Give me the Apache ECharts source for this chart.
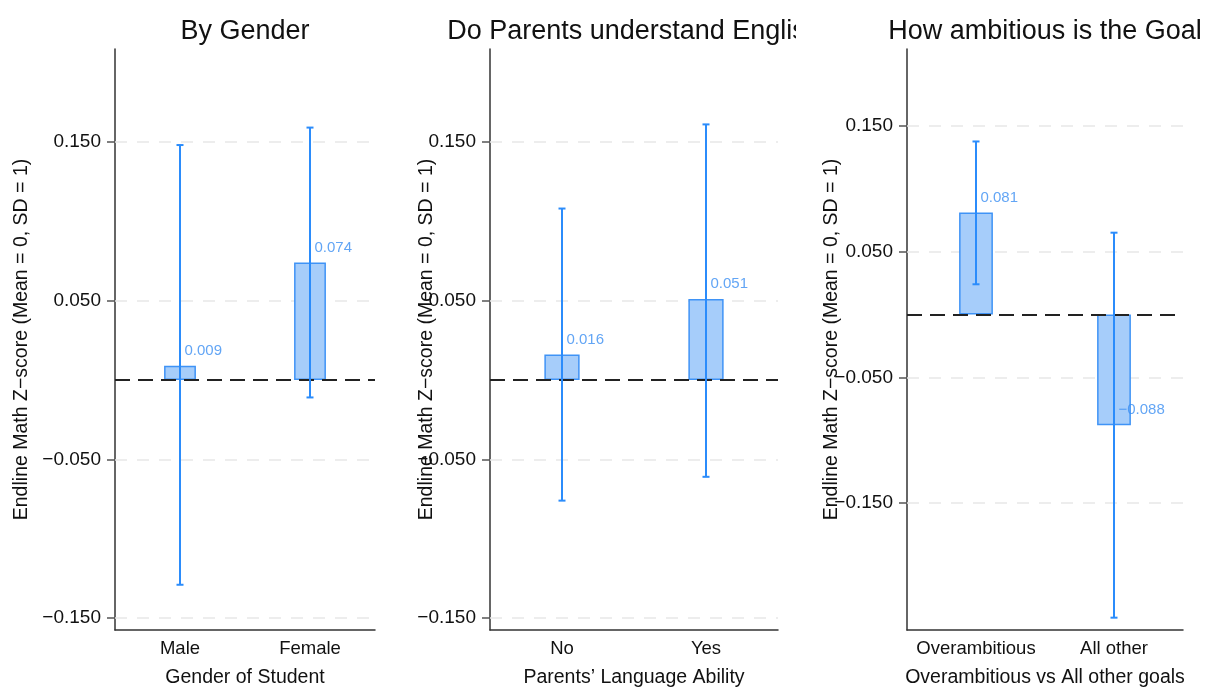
<!DOCTYPE html>
<html>
<head>
<meta charset="utf-8">
<script src="https://cdn.jsdelivr.net/npm/echarts@6/dist/echarts.min.js"></script>
<style>
  body { margin: 0; background: #fff; }
  .panel { position: absolute; top: 0; height: 687px; overflow: hidden; }
</style>
</head>
<body>
<div id="p1" class="panel" style="left:0;width:398px"></div>
<div id="p2" class="panel" style="left:398px;width:398px"></div>
<div id="p3" class="panel" style="left:796px;width:413px"></div>
<script>
  // tick values shared by all three panels
  const yTicks = [-0.15, -0.05, 0.05, 0.15]

  // by gender
  const genderCats = ['Male', 'Female']
  const genderMeans = [0.009, 0.074]
  const genderLow = [-0.129, -0.011]
  const genderHigh = [0.148, 0.159]

  // parents' language ability
  const parentCats = ['No', 'Yes']
  const parentMeans = [0.016, 0.051]
  const parentLow = [-0.076, -0.061]
  const parentHigh = [0.108, 0.161]

  // goal ambition
  const goalCats = ['Overambitious', 'All other']
  const goalMeans = [0.081, -0.088]
  const goalLow = [0.024, -0.241]
  const goalHigh = [0.1375, 0.065]

  const FONT = '"Liberation Sans", Arial, Helvetica, sans-serif'
  const blue = '#2b8cfb'

  function fmt (v) {
    return v.toFixed(3).replace('-', '\u2212')
  }

  function drawPanel (id, p) {
    let chart = echarts.init(document.getElementById(id))
    chart.setOption({
      animation: false,
      textStyle: { fontFamily: FONT },
      title: {
        text: p.title,
        left: p.left + p.width / 2,
        top: 18,
        padding: 0,
        textAlign: 'center',
        textStyle: { fontFamily: FONT, fontSize: 27, fontWeight: 'normal', color: '#111' }
      },
      grid: { left: p.left, top: 49, width: p.width, height: 581, outerBoundsMode: 'none', containLabel: false },
      xAxis: {
        type: 'category',
        data: p.cats,
        name: p.xName,
        nameLocation: 'middle',
        nameGap: 38,
        nameMoveOverlap: false,
        nameTextStyle: { fontSize: 19.5, color: '#111' },
        axisLine: { onZero: false, lineStyle: { color: '#333', width: 1.5 } },
        axisTick: { alignWithLabel: true, length: 7, lineStyle: { color: '#444', width: 1.5 } },
        axisLabel: { interval: 0, fontSize: 18.5, color: '#111', margin: 9 }
      },
      yAxis: {
        type: 'value',
        min: p.min,
        max: p.max,
        name: 'Endline Math Z\u2212score (Mean = 0, SD = 1)',
        nameLocation: 'middle',
        nameGap: p.nameGap,
        nameMoveOverlap: false,
        nameTextStyle: { fontSize: 19.5, color: '#111' },
        axisLine: { show: true, lineStyle: { color: '#333', width: 1.5 } },
        axisTick: { show: true, customValues: yTicks, length: 8, lineStyle: { color: '#555', width: 1.5 } },
        axisLabel: { customValues: yTicks, formatter: fmt, fontSize: 19, color: '#111', margin: 14 },
        splitLine: { show: false }
      },
      series: [
        {
          // light dashed grid lines behind the bars
          type: 'line',
          data: [],
          z: 1,
          silent: true,
          markLine: {
            z: 1,
            silent: true,
            symbol: 'none',
            label: { show: false },
            lineStyle: { color: '#e8e8e8', type: [12, 10], width: 1.5 },
            data: yTicks.map(v => ({ yAxis: v }))
          }
        },
        {
          type: 'bar',
          data: p.means,
          barWidth: '24.5%',
          z: 3,
          itemStyle: { color: '#a6cdfa', borderColor: '#3f93f6', borderWidth: 1.5 }
        },
        {
          // zero reference line
          type: 'line',
          data: [],
          z: 5,
          silent: true,
          markLine: {
            z: 5,
            silent: true,
            symbol: 'none',
            label: { show: false },
            lineStyle: { color: '#222', type: [15, 8], width: 2 },
            data: [{ yAxis: 0 }]
          }
        },
        {
          type: 'custom',
          z: 6,
          data: p.cats.map((c, i) => [i, p.low[i], p.high[i]]),
          renderItem: (params, api) => {
            let lo = api.coord([api.value(0), api.value(1)])
            let hi = api.coord([api.value(0), api.value(2)])
            let cap = 3.5
            let style = { stroke: blue, lineWidth: 2 }
            return {
              type: 'group',
              children: [
                { type: 'line', shape: { x1: lo[0], y1: lo[1], x2: hi[0], y2: hi[1] }, style },
                { type: 'line', shape: { x1: hi[0] - cap, y1: hi[1], x2: hi[0] + cap, y2: hi[1] }, style },
                { type: 'line', shape: { x1: lo[0] - cap, y1: lo[1], x2: lo[0] + cap, y2: lo[1] }, style }
              ]
            }
          }
        },
        {
          // value labels next to the bar ends
          type: 'scatter',
          data: p.means,
          z: 7,
          symbolSize: 1,
          itemStyle: { color: 'rgba(0,0,0,0)' },
          label: {
            show: true,
            position: 'right',
            distance: 0,
            offset: [4, -15],
            formatter: d => fmt(d.value),
            fontSize: 15,
            color: '#3b8ff2'
          }
        }
      ]
    })
  }

  drawPanel('p1', {
    title: 'By Gender',
    cats: genderCats, means: genderMeans, low: genderLow, high: genderHigh,
    xName: 'Gender of Student',
    left: 115, width: 260, min: -0.1575, max: 0.2085, nameGap: 83
  })
  drawPanel('p2', {
    title: 'Do Parents understand English',
    cats: parentCats, means: parentMeans, low: parentLow, high: parentHigh,
    xName: 'Parents\u2019 Language Ability',
    left: 92, width: 288, min: -0.1575, max: 0.2085, nameGap: 53
  })
  drawPanel('p3', {
    title: 'How ambitious is the Goal',
    cats: goalCats, means: goalMeans, low: goalLow, high: goalHigh,
    xName: 'Overambitious vs All other goals',
    left: 111, width: 276, min: -0.2508, max: 0.211, nameGap: 65
  })
</script>
</body>
</html>
